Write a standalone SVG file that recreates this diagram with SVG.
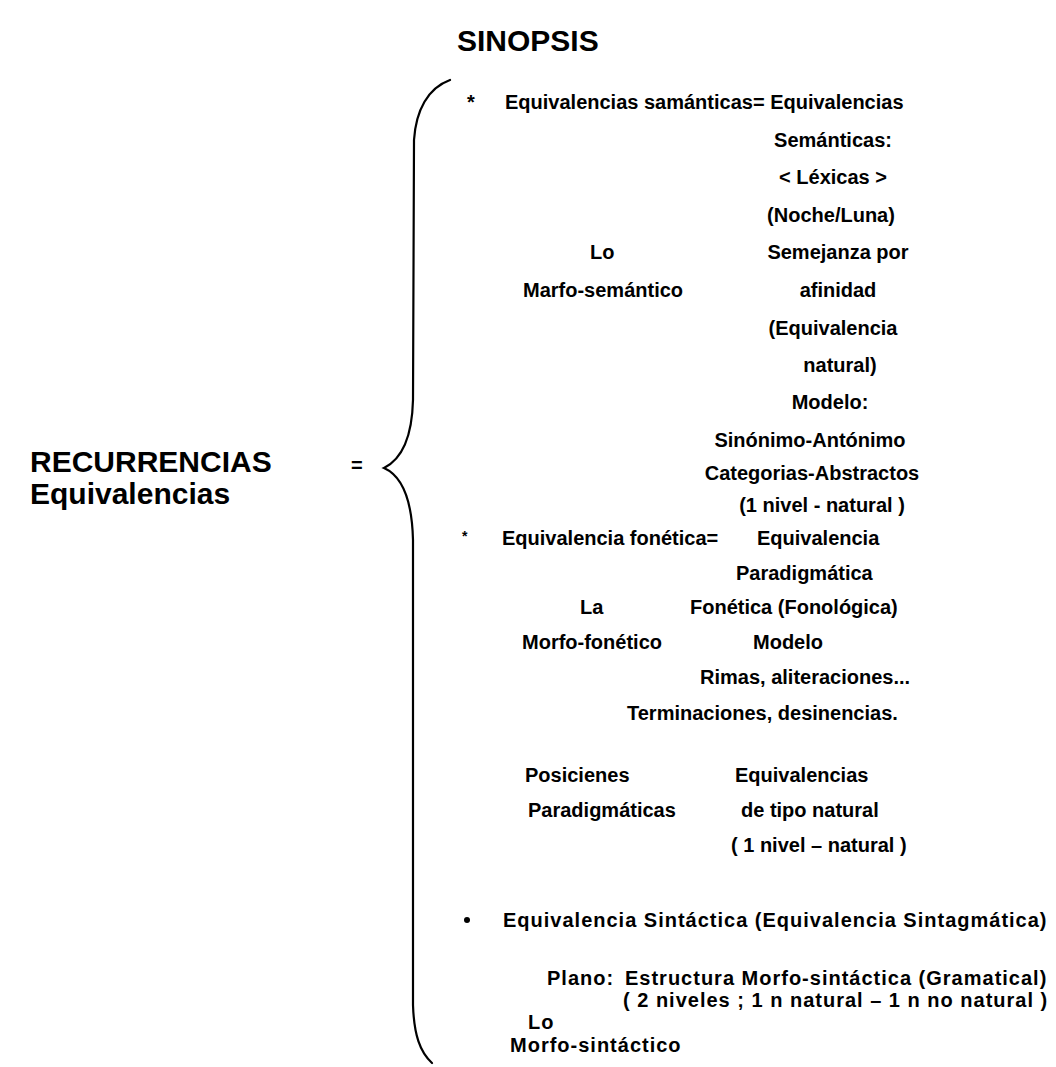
<svg xmlns="http://www.w3.org/2000/svg" width="1056" height="1067" viewBox="0 0 1056 1067">
<style>
.t{font-family:"Liberation Sans",Arial,sans-serif;font-size:20px;font-weight:bold;fill:#000}
.s{letter-spacing:1px}
.h{font-family:"Liberation Sans",Arial,sans-serif;font-size:30px;font-weight:bold;fill:#000}
.m{text-anchor:middle}
.br{fill:none;stroke:#000;stroke-width:2.2;stroke-linecap:round}
</style>
<rect width="1056" height="1067" fill="#fff"/>
<g id="title"><text class="h" x="457" y="51">SINOPSIS</text></g>
<g id="root">
<text class="h" x="30" y="472">RECURRENCIAS</text>
<text class="h" x="30" y="504">Equivalencias</text>
<text class="t" x="351" y="472">=</text>
</g>
<g id="connectors">
<path class="br" d="M450,80 C428,88 416,110 414,140 L413,400 C412,440 400,460 384,468 C402,476 412,500 413,540 L413,1005 C414,1035 420,1052 432,1063"/>
</g>
<g id="semantica">
<text class="t" x="467" y="109">*</text>
<text class="t" x="505" y="109">Equivalencias samánticas= Equivalencias</text>
<text class="t m" x="833" y="147">Semánticas:</text>
<text class="t m" x="833" y="184">&lt; Léxicas &gt;</text>
<text class="t m" x="831" y="222">(Noche/Luna)</text>
<text class="t" x="590" y="259">Lo</text>
<text class="t m" x="838" y="259">Semejanza por</text>
<text class="t" x="523" y="297">Marfo-semántico</text>
<text class="t m" x="838" y="297">afinidad</text>
<text class="t m" x="833" y="335">(Equivalencia</text>
<text class="t m" x="840" y="372">natural)</text>
<text class="t m" x="830" y="409">Modelo:</text>
<text class="t m" x="810" y="447">Sinónimo-Antónimo</text>
<text class="t m" x="812" y="480">Categorias-Abstractos</text>
<text class="t m" x="822" y="512">(1 nivel -  natural )</text>
</g>
<g id="fonetica">
<text class="t" x="462" y="541" style="font-size:14px">*</text>
<text class="t" x="502" y="545">Equivalencia fonética=</text>
<text class="t" x="757" y="545">Equivalencia</text>
<text class="t" x="736" y="580">Paradigmática</text>
<text class="t" x="580" y="614">La</text>
<text class="t" x="690" y="614">Fonética (Fonológica)</text>
<text class="t" x="522" y="649">Morfo-fonético</text>
<text class="t" x="753" y="649">Modelo</text>
<text class="t" x="700" y="684">Rimas, aliteraciones...</text>
<text class="t" x="627" y="720">Terminaciones, desinencias.</text>
<text class="t" x="525" y="782">Posicienes</text>
<text class="t" x="735" y="782">Equivalencias</text>
<text class="t" x="528" y="817">Paradigmáticas</text>
<text class="t" x="741" y="817">de tipo natural</text>
<text class="t" x="731" y="852">( 1 nivel – natural )</text>
</g>
<g id="sintactica">
<circle cx="467" cy="920" r="3"/>
<text class="t s" x="503" y="927">Equivalencia Sintáctica (Equivalencia Sintagmática)</text>
<text class="t s" x="547" y="985">Plano:</text>
<text class="t s" x="625" y="985">Estructura Morfo-sintáctica (Gramatical)</text>
<text class="t s" x="623" y="1007">( 2 niveles ; 1 n natural – 1 n no natural )</text>
<text class="t s" x="528" y="1029">Lo</text>
<text class="t s" x="510" y="1052">Morfo-sintáctico</text>
</g>
</svg>
